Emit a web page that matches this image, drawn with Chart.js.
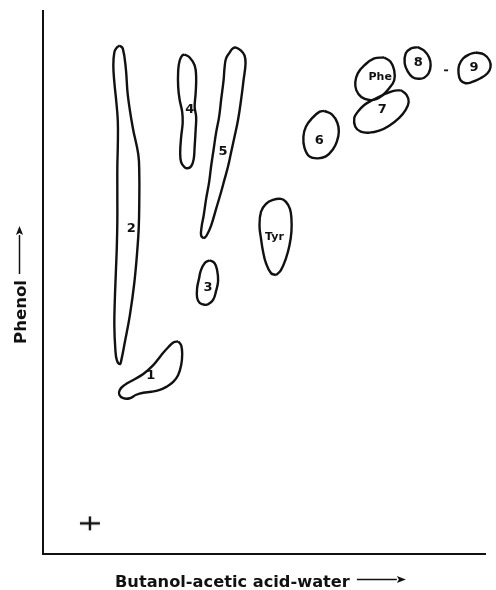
<!DOCTYPE html>
<html>
<head>
<meta charset="utf-8">
<script src="https://cdn.jsdelivr.net/npm/chart.js@4"></script>
<style>
  html, body { margin: 0; padding: 0; background: #fff; }
  #wrap { width: 496px; height: 590px; }
</style>
</head>
<body>
<div id="wrap"><canvas id="c" width="496" height="590"></canvas></div>
<script>
// Outline of each spot on the two-way chromatogram, in paper units
// x: run in butanol-acetic acid-water, y: run in phenol (origin at bottom-left)
const spot1 = [[135.5,215],[138.5,211],[139.5,202],[138.5,191],[135.5,181],[130.5,174],[123.5,169],[117,166],[108.5,164],[100.5,163],[93.5,161],[87,157.5],[80.5,157.5],[76.5,161],[77,166],[82,171],[90.5,176],[100.5,182],[110.5,191],[118.5,201],[125.5,209],[131,214],[135.5,215]];
const spot2 = [[77,514],[80,511],[83,491],[85,464],[90,431],[95.5,404],[96.5,384],[96.5,357],[96,331],[94.5,307],[91.5,274],[87,241],[82,214],[78.5,196],[77,192],[74,196],[72.5,207],[71.5,231],[72,257],[73,284],[74,311],[74.5,337],[74.5,364],[74.5,391],[75,414],[75,437],[73.5,457],[71.5,477],[70.5,494],[71.5,507],[74,512],[77,514]];
const spot3 = [[167,297],[172,294],[174.5,287],[175.5,276],[173.5,266],[170.5,257],[165.5,252.5],[162,252],[157,254],[154.5,259],[154.5,269],[156.5,279],[158,286],[162,294],[167,297]];
const spot4 = [[142,505],[147,502],[152,494],[153.5,482],[153,466],[152,452],[153.5,442],[153,429],[152,412],[151,399],[148.5,392],[145,390],[142,391],[138.5,396],[137.5,406],[138.5,422],[140,436],[139.5,447],[137,459],[135.5,472],[135.5,489],[137,499],[139.5,504],[142,505]];
const spot5 = [[161,319],[164,322],[168.5,332],[173.5,349],[178.5,366],[182,379],[185.5,392],[188.5,406],[192,422],[195.5,439],[198.5,459],[201,479],[203,496],[202,504],[198.5,509],[193.5,512],[190,511],[187,507],[183.5,501],[182,492],[181,479],[178.5,459],[176.5,442],[173.5,426],[171,409],[168.5,392],[166.5,376],[163.5,359],[161,342],[159,331],[158.5,322],[161,319]];
const spot6 = [[282,448],[290,444],[295,436],[296.5,427],[294.5,417],[290.5,409],[283.5,402],[275.5,400],[267,402],[262,411],[261,422],[263.5,432],[270,441],[277,447],[282,448]];
const spot7 = [[358.5,469],[364.5,464],[366.5,457],[363.5,449],[357,441],[347,433],[337,428],[327,426],[318.5,427],[313,432],[312,441],[315.5,447],[322,454],[330.5,459],[340.5,464],[350.5,468],[358.5,469]];
const spot8 = [[375.5,512.5],[382,509],[387,502],[388.5,494],[386.5,486],[382,481.5],[377,480.5],[370.5,482],[365.5,488],[362.5,496],[363.5,506],[368.5,511],[375.5,512.5]];
const spot9 = [[433.5,507],[442,505],[447.5,499],[448.5,492],[445.5,486],[438.5,481],[429.5,477],[423.5,476],[418.5,479],[416.5,486],[417,494],[421,501],[427,505],[433.5,507]];
const spotTyr = [[233.5,282],[238.5,287],[243.5,299],[247,312],[249,326],[249,339],[247.5,349],[243.5,356],[238.5,359],[230.5,358],[223.5,354],[218.5,346],[217,332],[218.5,319],[220.5,306],[223.5,294],[228.5,284],[233.5,282]];
const spotPhe = [[342,502],[348.5,497.5],[352,489],[352,479],[347,471],[340.5,464],[334,460],[327,459],[319,462],[314,469],[313,477],[315.5,486],[322,494],[332,501],[342,502]];
const faintMark = [[402,489],[406,489]];
const origin = [[47,31]];

// Spot labels
const spotNames = ['1','2','3','4','5','6','7','8','9','Tyr','Phe'];
const labelX = [108,88.5,165.5,147,180.5,277,340,376,432,232,338];
const labelY = [180,329,269.5,449,407,418,449,497,491.5,320,482];

// Axis extent and titles
const xRange = [0, 443];
const yRange = [0, 549];
const xTitle = 'Butanol-acetic acid-water';
const yTitle = 'Phenol';

const INK = '#111';
const toXY = arr => arr.map(p => ({x: p[0], y: p[1]}));

const spots = [spot1, spot2, spot3, spot4, spot5, spot6, spot7, spot8, spot9, spotTyr, spotPhe];
const datasets = spots.map((s, i) => ({
  label: 'spot ' + spotNames[i],
  data: toXY(s),
  showLine: true,
  borderColor: INK,
  borderWidth: 2.4,
  pointRadius: 0,
  tension: 0.42,
  fill: false,
  clip: false
}));
datasets.push({
  label: 'faint', data: toXY(faintMark), showLine: true, borderColor: INK,
  borderWidth: 1.8, pointRadius: 0, tension: 0, clip: false
});

// origin mark: a "+" point style
const plus = document.createElement('canvas');
plus.width = 22; plus.height = 16;
(function(){
  const g = plus.getContext('2d');
  g.strokeStyle = INK; g.lineWidth = 2.4;
  g.beginPath(); g.moveTo(1, 8); g.lineTo(21, 8); g.moveTo(11, 1); g.lineTo(11, 15); g.stroke();
})();
datasets.push({
  label: 'origin', data: toXY(origin), showLine: false, pointStyle: plus,
  pointRadius: 10, clip: false
});

const FONT = '"DejaVu Sans", "Open Sans", sans-serif';

const labelPlugin = {
  id: 'spotLabels',
  afterDatasetsDraw(chart) {
    const {ctx, scales: {x, y}} = chart;
    ctx.save();
    ctx.fillStyle = INK;
    ctx.textAlign = 'center';
    ctx.textBaseline = 'middle';
    spotNames.forEach((n, i) => {
      ctx.font = (n.length > 1 ? 'bold 11px ' : 'bold 13px ') + FONT;
      ctx.fillText(n, x.getPixelForValue(labelX[i]), y.getPixelForValue(labelY[i]));
    });
    ctx.restore();
  }
};

function arrow(ctx, x0, y0, x1, y1) {
  const ang = Math.atan2(y1 - y0, x1 - x0);
  const hl = 9, hw = 3.6;
  const bx = x1 - hl * Math.cos(ang), by = y1 - hl * Math.sin(ang);
  ctx.beginPath(); ctx.moveTo(x0, y0); ctx.lineTo(bx, by); ctx.stroke();
  ctx.beginPath();
  ctx.moveTo(x1, y1);
  ctx.lineTo(bx + hw * Math.sin(ang), by - hw * Math.cos(ang));
  ctx.lineTo(bx + 2 * Math.cos(ang), by + 2 * Math.sin(ang));
  ctx.lineTo(bx - hw * Math.sin(ang), by + hw * Math.cos(ang));
  ctx.closePath(); ctx.fill();
}

// pick a font size so the text spans the wanted width
function fitFont(ctx, text, width) {
  ctx.font = 'bold 16px ' + FONT;
  const s = 16 * width / ctx.measureText(text).width;
  ctx.font = 'bold ' + s.toFixed(2) + 'px ' + FONT;
  return ctx.measureText(text).width;
}

const titlePlugin = {
  id: 'axisTitles',
  afterDraw(chart) {
    const {ctx, chartArea: ca} = chart;
    ctx.save();
    ctx.fillStyle = INK; ctx.strokeStyle = INK; ctx.lineWidth = 1.5;
    ctx.textBaseline = 'alphabetic';
    ctx.textAlign = 'left';
    // x title
    const w = fitFont(ctx, xTitle, 235);
    const tx = ca.left + 72, ty = ca.bottom + 32.5;
    ctx.fillText(xTitle, tx, ty);
    arrow(ctx, tx + w + 7, ty - 7, tx + w + 56, ty - 7);
    // y title (rotated)
    const wy = fitFont(ctx, yTitle, 64);
    ctx.save();
    ctx.translate(ca.left - 17, ca.bottom - 210);
    ctx.rotate(-Math.PI / 2);
    ctx.fillText(yTitle, 0, 0);
    arrow(ctx, wy + 6, -6.5, wy + 54, -6.5);
    ctx.restore();
    ctx.restore();
  }
};

new Chart(document.getElementById('c'), {
  type: 'scatter',
  data: { datasets },
  options: {
    responsive: false,
    animation: false,
    events: [],
    layout: { padding: { left: 43, right: 10, top: 5, bottom: 36 } },
    elements: { line: { capBezierPoints: false } },
    plugins: { legend: { display: false }, tooltip: { enabled: false } },
    scales: {
      x: {
        type: 'linear', min: xRange[0], max: xRange[1],
        grid: { display: false }, ticks: { display: false },
        border: { display: true, color: INK, width: 2 },
        afterFit: s => { s.height = 0; }
      },
      y: {
        type: 'linear', min: yRange[0], max: yRange[1],
        grid: { display: false }, ticks: { display: false },
        border: { display: true, color: INK, width: 2 },
        afterFit: s => { s.width = 0; }
      }
    }
  },
  plugins: [labelPlugin, titlePlugin]
});
</script>
</body>
</html>
